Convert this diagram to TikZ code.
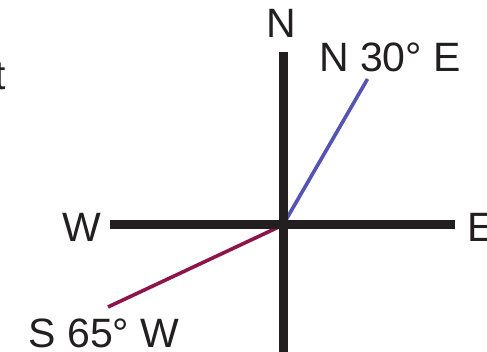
\documentclass[tikz,border=0pt]{standalone}
\usepackage{fontspec}
\setmainfont{Liberation Sans}
\definecolor{axisblack}{RGB}{35,31,32}
\definecolor{bearingblue}{RGB}{84,84,180}
\definecolor{bearingred}{RGB}{140,22,74}
\begin{document}
\begin{tikzpicture}[x=1pt,y=-1pt,
  lbl/.style={inner sep=0pt,font=\fontsize{41}{48}\selectfont,text=axisblack},
  axisline/.style={line width=9pt,draw=axisblack},
  bearing/.style={line width=3.6pt}]
\useasboundingbox (0,0) rectangle (487,352);
\coordinate (O) at (283,225);
\coordinate (Ntop) at (283,52);
\coordinate (Sbot) at (283,362);
\coordinate (Wend) at (110,225);
\coordinate (Eend) at (455,225);
\coordinate (Bend) at (367.5,79);
\coordinate (Rend) at (108,307);
% bearings
\draw[bearing,draw=bearingblue] (O) -- (Bend);
\draw[bearing,draw=bearingred] (O) -- (Rend);
% axes
\draw[axisline] (Ntop) -- (Sbot);
\draw[axisline] (Wend) -- (Eend);
% labels
\node[lbl,anchor=base] (n) at (281,38) {N};
\node[lbl,anchor=base] (ne) at (390,72) {N 30° E};
\node[lbl,anchor=base east] (w) at (101,242) {W};
\node[lbl,anchor=base west] (e) at (467,242) {E};
\node[lbl,anchor=base] (sw) at (104,348) {S 65° W};
\node[lbl,anchor=base east] (t) at (6,90) {t};
\end{tikzpicture}
\end{document}
